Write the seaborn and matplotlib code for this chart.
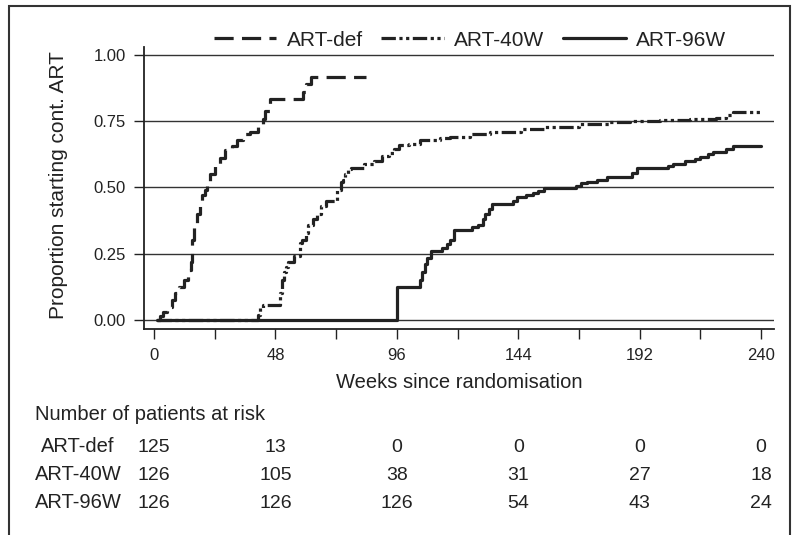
import matplotlib
matplotlib.use("Agg")
import matplotlib.pyplot as plt
import matplotlib.patches as patches
import matplotlib.transforms as mtransforms
import seaborn as sns
import pandas as pd

# Kaplan-Meier type curves (week, proportion)
def_weeks = [1, 2.5, 3.5, 5, 7, 8.5, 10, 12, 13.5, 14.5, 15, 16, 17, 18, 19,
             20, 21, 22, 24, 26, 28, 31, 33, 35, 38, 41, 43, 44, 46, 59, 60,
             62, 84]
def_prop = [0, 0.015, 0.03, 0.05, 0.075, 0.1, 0.125, 0.15, 0.19, 0.22, 0.3,
            0.36, 0.4, 0.44, 0.47, 0.49, 0.52, 0.55, 0.58, 0.61, 0.64, 0.655,
            0.68, 0.70, 0.71, 0.73, 0.76, 0.79, 0.833, 0.86, 0.89, 0.917,
            0.917]

w40_weeks = [1, 41, 42, 43, 49.8, 50.6, 51.2, 52, 53, 55.4, 57.7, 58.5, 60,
             61, 63, 64.5, 66, 68, 69.6, 72.3, 74, 74.7, 75.5, 76.7, 78, 83,
             87, 90, 93, 95, 97, 101, 105, 113, 117, 125, 133, 145, 154, 168,
             180, 188, 200, 212, 222, 226, 229, 240]
w40_prop = [0, 0.02, 0.045, 0.055, 0.10, 0.15, 0.18, 0.20, 0.22, 0.24, 0.29,
            0.30, 0.33, 0.36, 0.38, 0.40, 0.43, 0.45, 0.45, 0.49, 0.52, 0.53,
            0.55, 0.57, 0.575, 0.59, 0.60, 0.62, 0.63, 0.645, 0.66, 0.665,
            0.68, 0.685, 0.69, 0.70, 0.71, 0.72, 0.73, 0.74, 0.748, 0.752,
            0.755, 0.758, 0.762, 0.775, 0.785, 0.785]

w96_weeks = [1, 96, 105, 106, 107, 108, 109.5, 114, 116, 117, 118.5, 125.7,
             128, 130, 131, 132.5, 133.5, 142, 143.5, 147, 150, 152, 154, 167,
             169, 171, 175, 179, 189, 191, 203, 205, 210, 214, 216, 219, 221,
             226, 229, 240]
w96_prop = [0, 0.125, 0.15, 0.18, 0.21, 0.235, 0.26, 0.27, 0.285, 0.30, 0.34,
            0.35, 0.36, 0.38, 0.40, 0.42, 0.437, 0.45, 0.465, 0.47, 0.478,
            0.488, 0.497, 0.507, 0.515, 0.52, 0.53, 0.54, 0.555, 0.573, 0.58,
            0.59, 0.60, 0.608, 0.616, 0.625, 0.635, 0.645, 0.655, 0.655]

arms = ["ART-def", "ART-40W", "ART-96W"]
risk_weeks = [0, 48, 96, 144, 192, 240]
risk_def = [125, 13, 0, 0, 0, 0]
risk_40w = [126, 105, 38, 31, 27, 18]
risk_96w = [126, 126, 126, 54, 43, 24]

sns.set_theme(style="ticks")
plt.rcParams["font.family"] = ["Liberation Sans", "DejaVu Sans"]

W, H = 796, 535
fig = plt.figure(figsize=(W / 100, H / 100), dpi=100)
ax = fig.add_axes([144 / W, 1 - 329 / H, 630 / W, 282 / H])

ink = "#222222"
styles = {
    "ART-def": (0, (6, 2.6)),
    "ART-40W": (0, (4.5, 1.1, 1.0, 1.1, 1.0, 1.1)),
    "ART-96W": "-",
}
curves = {
    "ART-def": (def_weeks, def_prop),
    "ART-40W": (w40_weeks, w40_prop),
    "ART-96W": (w96_weeks, w96_prop),
}

for gy in [0, 0.25, 0.5, 0.75, 1.0]:
    ax.axhline(gy, color="#333333", lw=1.0, zorder=1)

for arm in arms:
    wk, pr = curves[arm]
    d = pd.DataFrame({"week": wk, "prop": pr})
    sns.lineplot(data=d, x="week", y="prop", ax=ax, color=ink, lw=2.3,
                 linestyle=styles[arm], drawstyle="steps-post",
                 estimator=None, sort=False, label=arm, zorder=3)

ax.set_xlim(-3.95, 245.1)
ax.set_ylim(-0.034, 1.030)
ax.set_xticks(risk_weeks)
ax.set_xticks([24, 72, 120, 168, 216], minor=True)
ax.set_yticks([0, 0.25, 0.5, 0.75, 1.0])
ax.set_yticklabels(["0.00", "0.25", "0.50", "0.75", "1.00"])
ax.tick_params(axis="both", which="both", direction="out", length=7,
               width=1.0, color=ink, labelsize=12, labelcolor=ink)
ax.tick_params(axis="x", pad=7)
ax.tick_params(axis="y", pad=6)
for s in ["top", "right"]:
    ax.spines[s].set_visible(False)
for s in ["left", "bottom"]:
    ax.spines[s].set_color(ink)
    ax.spines[s].set_linewidth(1.3)

ax.set_ylabel("Proportion starting cont. ART", fontsize=15, color=ink)
ax.yaxis.set_label_coords((68 - 144) / 630, 0.512)
ax.set_xlabel("Weeks since randomisation", fontsize=14.5, color=ink)
ax.xaxis.label.set_va("center")
ax.xaxis.set_label_coords(0.5, (329 - 383) / 282)

handles, labels = ax.get_legend_handles_labels()
ax.get_legend().remove()
fig.legend(handles, labels, loc="center", bbox_to_anchor=(470 / W, 1 - 40 / H),
           ncol=3, frameon=False, fontsize=15, handlelength=3.0,
           handletextpad=0.5, columnspacing=0.9, labelcolor=ink)

# number at risk table
trans = mtransforms.blended_transform_factory(ax.transData, fig.transFigure)
fig.text(35 / W, 1 - 415 / H, "Number of patients at risk", fontsize=14.5,
         color=ink, va="center", ha="left")
rows = [risk_def, risk_40w, risk_96w]
row_y = [447, 475, 503]
for arm, vals, yy in zip(arms, rows, row_y):
    fig.text(78 / W, 1 - yy / H, arm, fontsize=14.5, color=ink,
             ha="center", va="center")
    for wk, v in zip(risk_weeks, vals):
        ax.text(wk, 1 - yy / H, str(v), transform=trans, fontsize=14,
                color=ink, ha="center", va="center", clip_on=False)

# outer frame of the figure panel
fig.add_artist(patches.Rectangle((9 / W, -0.1), 781 / W, 1.1 - 6 / H,
                                 transform=fig.transFigure, fill=False,
                                 lw=1.5, ec="#333333"))

fig.savefig("out.png", dpi=100)
plt.close(fig)
